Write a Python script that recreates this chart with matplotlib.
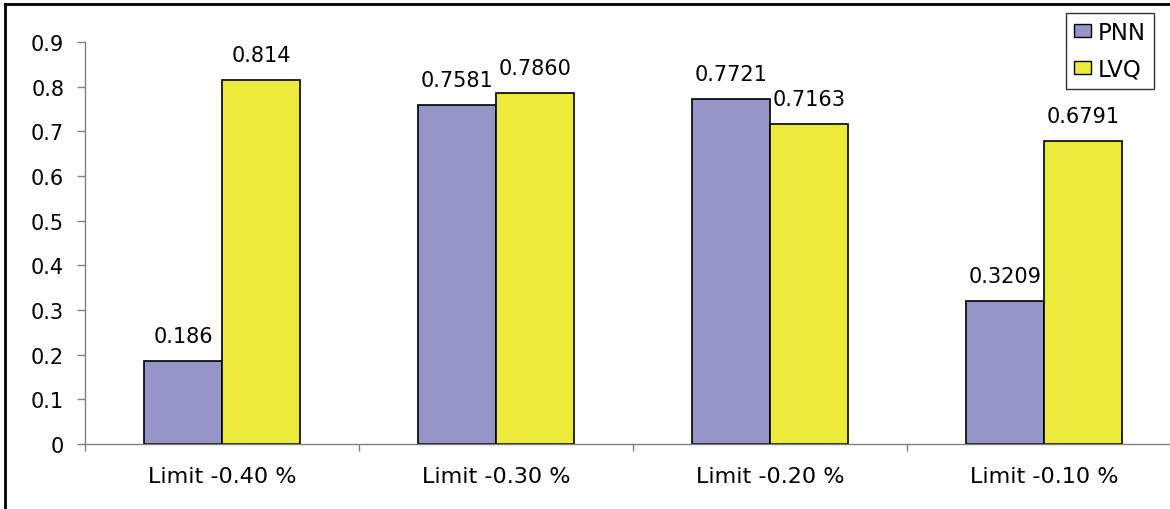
import matplotlib
matplotlib.use("Agg")
import matplotlib.pyplot as plt
from matplotlib.lines import Line2D
from matplotlib.patches import Patch
import numpy as np

categories = ["Limit -0.40 %", "Limit -0.30 %", "Limit -0.20 %", "Limit -0.10 %"]
pnn = [0.186, 0.7581, 0.7721, 0.3209]
lvq = [0.814, 0.7860, 0.7163, 0.6791]
pnn_labels = ["0.186", "0.7581", "0.7721", "0.3209"]
lvq_labels = ["0.814", "0.7860", "0.7163", "0.6791"]
yticks = [0, 0.1, 0.2, 0.3, 0.4, 0.5, 0.6, 0.7, 0.8, 0.9]
ytick_labels = ["0", "0.1", "0.2", "0.3", "0.4", "0.5", "0.6", "0.7", "0.8", "0.9"]

plt.rcParams['font.family'] = ['DejaVu Sans']

W, H = 1170, 510
fig = plt.figure(figsize=(W / 100, H / 100), dpi=100)
ax = fig.add_axes([85 / W, 1 - 445 / H, 1096 / W, (445 - 43) / H])

x = np.arange(len(categories))
bw = 0.285
c_pnn = "#9795C8"
c_lvq = "#EEEA3C"
b1 = ax.bar(x - bw / 2, pnn, bw, color=c_pnn, edgecolor="black", linewidth=1.2, label="PNN")
b2 = ax.bar(x + bw / 2, lvq, bw, color=c_lvq, edgecolor="black", linewidth=1.2, label="LVQ")

for rect, lab in zip(b1, pnn_labels):
    ax.annotate(lab, (rect.get_x() + rect.get_width() / 2, rect.get_height()),
                xytext=(0, 15), textcoords="offset pixels", ha="center", va="bottom", fontsize=15)
for rect, lab in zip(b2, lvq_labels):
    ax.annotate(lab, (rect.get_x() + rect.get_width() / 2, rect.get_height()),
                xytext=(0, 15), textcoords="offset pixels", ha="center", va="bottom", fontsize=15)

ax.set_xlim(-0.5, len(categories) - 0.5)
ax.set_ylim(0, 0.9)
ax.set_yticks(yticks)
ax.set_yticklabels(ytick_labels, fontsize=15)
ax.set_xticks(x)
ax.set_xticklabels(categories, fontsize=16)
ax.tick_params(axis="x", which="major", length=0, pad=16)
ax.set_xticks(np.arange(-0.5, len(categories) + 0.5, 1), minor=True)
ax.tick_params(axis="x", which="minor", length=5, color="#808080", width=1)
ax.tick_params(axis="y", length=6, color="#808080", width=1, pad=9)

for s in ["top", "right"]:
    ax.spines[s].set_visible(False)
ax.spines["left"].set_color("#808080")
ax.spines["bottom"].set_color("#808080")
ax.spines["left"].set_linewidth(1)
ax.spines["bottom"].set_linewidth(1)

handles = [Patch(facecolor=c_pnn, edgecolor="black", linewidth=1),
           Patch(facecolor=c_lvq, edgecolor="black", linewidth=1)]
leg = fig.legend(handles, ["PNN", "LVQ"], loc="upper left",
                 bbox_to_anchor=(1066 / W, 1 - 14 / H), fontsize=16.5,
                 frameon=True, fancybox=False, edgecolor="black",
                 handlelength=0.75, handleheight=0.5, handletextpad=0.3,
                 borderpad=0.35, labelspacing=0.6, borderaxespad=0)
leg.get_frame().set_linewidth(1)

# outer chart border
fig.add_artist(Line2D([5 / W, 5 / W], [0, 1 - 5 / H], color="black", lw=2, transform=fig.transFigure))
fig.add_artist(Line2D([5 / W, 1], [1 - 5 / H, 1 - 5 / H], color="black", lw=2, transform=fig.transFigure))

fig.savefig("out.png", dpi=100)
